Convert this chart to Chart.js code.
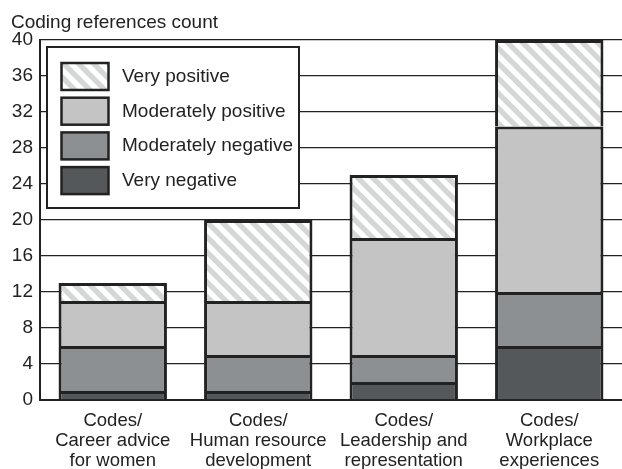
<!DOCTYPE html>
<html>
<head>
<meta charset="utf-8">
<script src="https://cdn.jsdelivr.net/npm/chart.js@4"></script>
<style>
	html, body { margin:0; padding:0; background:#fff; }
	#wrap { width:622px; height:469px; }
</style>
</head>
<body>
<div id="wrap"><canvas id="myChart" width="622" height="469"></canvas></div>
<script>
// data
var categories = [
	["Codes/", "Career advice", "for women"],
	["Codes/", "Human resource", "development"],
	["Codes/", "Leadership and", "representation"],
	["Codes/", "Workplace", "experiences"]
];
var veryNegative = [1, 1, 2, 6];
var moderatelyNegative = [5, 4, 3, 6];
var moderatelyPositive = [5, 6, 13, 18.4];
var veryPositive = [2, 9, 7, 9.6];
var yTicks = [0, 4, 8, 12, 16, 20, 24, 28, 32, 36, 40];
var axisTitle = "Coding references count";

var ink = '#222';
var font = '"Liberation Sans", Arial, sans-serif';

// hatch for "very positive"
function hatch(){
	var s = 15;
	var c = document.createElement('canvas');
	c.width = s; c.height = s;
	var g = c.getContext('2d');
	g.fillStyle = '#fff';
	g.fillRect(0, 0, s, s);
	g.strokeStyle = '#d5d7d7';
	g.lineWidth = 5.4;
	[-s, 0, s].forEach(function(o){
		g.beginPath();
		g.moveTo(o - 2, -2);
		g.lineTo(o + s + 2, s + 2);
		g.stroke();
	});
	return g.createPattern(c, 'repeat');
}

// y title + legend drawn inside the plot
var legendBox = {
	id:'legendBox',
	afterDraw:function(chart){
		var ctx = chart.ctx;
		ctx.save();
		ctx.fillStyle = ink;
		ctx.font = '19px ' + font;
		ctx.textAlign = 'left';
		ctx.textBaseline = 'alphabetic';
		ctx.fillText(axisTitle, 11, 27.5);

		ctx.fillStyle = '#fff';
		ctx.fillRect(47, 47, 252, 161);
		ctx.strokeStyle = ink;
		ctx.lineWidth = 2;
		ctx.strokeRect(47, 47, 252, 161);
		var sets = chart.data.datasets.slice().reverse();
		sets.forEach(function(ds, i){
			var y = 62.5 + i * 34.7;
			ctx.fillStyle = ds.backgroundColor;
			ctx.fillRect(61, y, 48, 28);
			ctx.lineWidth = 2.5;
			ctx.strokeStyle = ink;
			ctx.strokeRect(61.5, y + 0.5, 47, 27);
			ctx.fillStyle = ink;
			ctx.font = '19px ' + font;
			ctx.fillText(ds.label, 122, y + 19.3);
		});
		ctx.restore();
	}
};

var ctx = document.getElementById('myChart').getContext('2d');
var chart = new Chart(ctx, {
	type:'bar',
	data:{
		labels:categories,
		datasets:[
			{label:"Very negative", backgroundColor:'#54585a', data:veryNegative},
			{label:"Moderately negative", backgroundColor:'#8c9093', data:moderatelyNegative},
			{label:"Moderately positive", backgroundColor:'#c4c4c4', data:moderatelyPositive},
			{label:"Very positive", backgroundColor:hatch(), data:veryPositive}
		]
	},
	options:{
		responsive:false,
		animation:false,
		layout:{ padding:{ top:40, right:0, left:0, bottom:0 } },
		datasets:{
			bar:{
				borderColor:ink,
				borderWidth:3,
				categoryPercentage:1,
				barPercentage:0.745
			}
		},
		plugins:{
			legend:{ display:false },
			tooltip:{ enabled:false }
		},
		scales:{
			x:{
				stacked:true,
				grid:{ display:false, drawTicks:false },
				border:{ display:true, color:ink, width:2 },
				ticks:{
					color:ink,
					padding:11,
					maxRotation:0,
					font:{ family:font, size:18.5, lineHeight:1.08 }
				},
				afterFit:function(s){ s.height = 69; }
			},
			y:{
				stacked:true,
				min:0,
				max:40,
				afterBuildTicks:function(s){
					s.ticks = yTicks.map(function(v){ return {value:v}; });
				},
				grid:{ color:ink, lineWidth:1.3, drawTicks:false },
				border:{ display:true, color:ink, width:2 },
				ticks:{
					color:ink,
					padding:7,
					font:{ family:font, size:19 }
				},
				afterFit:function(s){ s.width = 40; }
			}
		}
	},
	plugins:[legendBox]
});
</script>
</body>
</html>
